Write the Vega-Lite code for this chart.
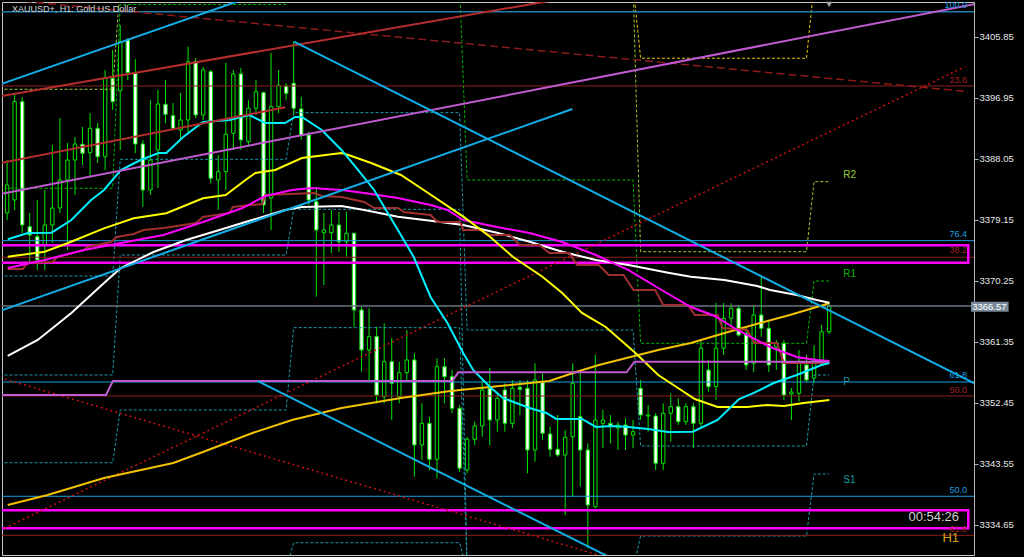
{
"$schema": "https://vega.github.io/schema/vega-lite/v6.json",
"width": 972, "height": 553,
"autosize": {"type": "none"},
"padding": {"left": 2, "top": 2, "right": 50, "bottom": 2},
"background": "#000000",
"config": {"view": {"stroke": "#c8c8c8", "strokeWidth": 1}, "font": "Liberation Sans"},
"datasets": {
"candles": [
{"i":0,"o":3380.13,"h":3387.85,"l":3379.10,"c":3384.21},
{"i":1,"o":3382.02,"h":3397.33,"l":3380.56,"c":3396.35},
{"i":2,"o":3396.35,"h":3397.03,"l":3377.21,"c":3378.37},
{"i":3,"o":3378.13,"h":3380.13,"l":3373.03,"c":3376.92},
{"i":4,"o":3376.67,"h":3382.02,"l":3371.81,"c":3373.27},
{"i":5,"o":3375.46,"h":3383.48,"l":3371.81,"c":3378.37},
{"i":6,"o":3378.37,"h":3390.04,"l":3375.75,"c":3380.85},
{"i":7,"o":3380.85,"h":3393.97,"l":3380.13,"c":3384.94},
{"i":8,"o":3384.94,"h":3390.33,"l":3374.73,"c":3387.85},
{"i":9,"o":3387.85,"h":3391.20,"l":3382.75,"c":3390.18},
{"i":10,"o":3390.14,"h":3392.66,"l":3387.12,"c":3388.83},
{"i":11,"o":3388.91,"h":3394.70,"l":3385.37,"c":3392.47},
{"i":12,"o":3392.47,"h":3393.24,"l":3387.41,"c":3388.33},
{"i":13,"o":3388.33,"h":3400.97,"l":3386.39,"c":3399.76},
{"i":14,"o":3399.76,"h":3403.89,"l":3395.14,"c":3396.35},
{"i":15,"o":3397.95,"h":3407.53,"l":3389.31,"c":3405.10},
{"i":16,"o":3405.34,"h":3405.64,"l":3399.51,"c":3400.58},
{"i":17,"o":3400.58,"h":3402.57,"l":3388.87,"c":3390.18},
{"i":18,"o":3390.18,"h":3390.77,"l":3381.00,"c":3383.48},
{"i":19,"o":3383.48,"h":3396.60,"l":3382.75,"c":3387.85},
{"i":20,"o":3389.31,"h":3398.06,"l":3383.77,"c":3396.01},
{"i":21,"o":3395.97,"h":3399.51,"l":3393.20,"c":3394.51},
{"i":22,"o":3394.31,"h":3396.16,"l":3392.22,"c":3392.47},
{"i":23,"o":3392.22,"h":3397.62,"l":3390.77,"c":3393.68},
{"i":24,"o":3393.68,"h":3404.37,"l":3391.79,"c":3402.18},
{"i":25,"o":3402.18,"h":3402.72,"l":3393.97,"c":3394.41},
{"i":26,"o":3394.41,"h":3401.41,"l":3393.68,"c":3400.97},
{"i":27,"o":3400.72,"h":3400.97,"l":3384.45,"c":3385.18},
{"i":28,"o":3384.94,"h":3388.58,"l":3380.56,"c":3386.15},
{"i":29,"o":3386.15,"h":3401.99,"l":3383.48,"c":3391.60},
{"i":30,"o":3391.74,"h":3400.97,"l":3389.31,"c":3400.39},
{"i":31,"o":3400.39,"h":3401.26,"l":3389.31,"c":3390.77},
{"i":32,"o":3390.52,"h":3396.60,"l":3389.79,"c":3395.39},
{"i":33,"o":3395.39,"h":3399.51,"l":3394.41,"c":3397.81},
{"i":34,"o":3397.66,"h":3397.81,"l":3380.13,"c":3381.29},
{"i":35,"o":3382.31,"h":3403.45,"l":3377.65,"c":3395.62},
{"i":36,"o":3395.62,"h":3400.97,"l":3394.66,"c":3398.74},
{"i":37,"o":3398.64,"h":3399.03,"l":3396.60,"c":3397.57},
{"i":38,"o":3399.03,"h":3405.10,"l":3394.41,"c":3395.39},
{"i":39,"o":3395.29,"h":3397.08,"l":3390.77,"c":3391.49},
{"i":40,"o":3391.49,"h":3392.00,"l":3381.29,"c":3382.02},
{"i":41,"o":3381.77,"h":3383.96,"l":3367.92,"c":3377.65},
{"i":42,"o":3377.25,"h":3380.13,"l":3369.63,"c":3377.65},
{"i":43,"o":3377.25,"h":3380.56,"l":3374.29,"c":3378.37},
{"i":44,"o":3378.37,"h":3380.27,"l":3374.48,"c":3375.94},
{"i":45,"o":3375.94,"h":3380.31,"l":3373.76,"c":3377.17},
{"i":46,"o":3377.17,"h":3377.21,"l":3363.55,"c":3365.99},
{"i":47,"o":3365.99,"h":3366.47,"l":3356.99,"c":3360.15},
{"i":48,"o":3360.15,"h":3366.23,"l":3355.78,"c":3362.09},
{"i":49,"o":3362.09,"h":3363.55,"l":3352.38,"c":3353.59},
{"i":50,"o":3353.35,"h":3364.05,"l":3352.38,"c":3358.45},
{"i":51,"o":3358.45,"h":3361.90,"l":3349.95,"c":3355.30},
{"i":52,"o":3353.35,"h":3358.45,"l":3352.38,"c":3356.85},
{"i":53,"o":3356.85,"h":3363.07,"l":3355.78,"c":3358.70},
{"i":54,"o":3358.70,"h":3359.67,"l":3341.68,"c":3346.30},
{"i":55,"o":3346.30,"h":3352.38,"l":3344.12,"c":3349.47},
{"i":56,"o":3349.47,"h":3350.43,"l":3342.66,"c":3344.22},
{"i":57,"o":3344.22,"h":3358.94,"l":3341.45,"c":3357.72},
{"i":58,"o":3357.72,"h":3358.94,"l":3352.38,"c":3356.26},
{"i":59,"o":3356.26,"h":3357.24,"l":3350.97,"c":3351.65},
{"i":60,"o":3351.65,"h":3352.14,"l":3342.41,"c":3342.91},
{"i":61,"o":3342.66,"h":3347.51,"l":3342.18,"c":3347.14},
{"i":62,"o":3347.14,"h":3349.70,"l":3346.30,"c":3349.08},
{"i":63,"o":3349.08,"h":3355.78,"l":3347.51,"c":3354.32},
{"i":64,"o":3354.57,"h":3357.49,"l":3346.30,"c":3349.95},
{"i":65,"o":3349.95,"h":3354.08,"l":3348.24,"c":3353.11},
{"i":66,"o":3354.32,"h":3355.30,"l":3348.24,"c":3349.47},
{"i":67,"o":3349.47,"h":3355.78,"l":3348.74,"c":3354.57},
{"i":68,"o":3354.72,"h":3355.78,"l":3350.68,"c":3354.43},
{"i":69,"o":3354.57,"h":3355.78,"l":3342.18,"c":3345.58},
{"i":70,"o":3345.58,"h":3358.21,"l":3343.87,"c":3355.78},
{"i":71,"o":3355.53,"h":3356.76,"l":3347.03,"c":3348.01},
{"i":72,"o":3347.91,"h":3348.97,"l":3344.60,"c":3345.68},
{"i":73,"o":3345.68,"h":3350.68,"l":3344.60,"c":3344.85},
{"i":74,"o":3344.85,"h":3348.49,"l":3336.10,"c":3347.43},
{"i":75,"o":3347.51,"h":3358.21,"l":3338.77,"c":3355.30},
{"i":76,"o":3350.43,"h":3357.24,"l":3340.23,"c":3345.58},
{"i":77,"o":3345.58,"h":3346.55,"l":3331.25,"c":3337.56},
{"i":78,"o":3337.31,"h":3359.43,"l":3337.08,"c":3349.95},
{"i":79,"o":3349.47,"h":3351.41,"l":3345.83,"c":3349.95},
{"i":80,"o":3349.47,"h":3350.68,"l":3346.55,"c":3349.18},
{"i":81,"o":3348.78,"h":3349.70,"l":3345.58,"c":3349.22},
{"i":82,"o":3349.22,"h":3350.20,"l":3345.58,"c":3347.76},
{"i":83,"o":3347.76,"h":3349.95,"l":3345.83,"c":3348.24},
{"i":84,"o":3354.57,"h":3355.78,"l":3349.95,"c":3350.68},
{"i":85,"o":3350.53,"h":3352.14,"l":3348.24,"c":3350.68},
{"i":86,"o":3350.53,"h":3350.93,"l":3342.66,"c":3343.64},
{"i":87,"o":3343.64,"h":3352.38,"l":3342.66,"c":3350.93},
{"i":88,"o":3350.93,"h":3353.84,"l":3346.79,"c":3351.89},
{"i":89,"o":3351.89,"h":3353.11,"l":3349.22,"c":3349.70},
{"i":90,"o":3349.70,"h":3352.38,"l":3349.22,"c":3351.89},
{"i":91,"o":3351.89,"h":3352.38,"l":3345.83,"c":3349.47},
{"i":92,"o":3349.47,"h":3361.61,"l":3348.97,"c":3360.40},
{"i":93,"o":3357.24,"h":3358.70,"l":3354.08,"c":3354.81},
{"i":94,"o":3354.81,"h":3367.00,"l":3352.86,"c":3360.40},
{"i":95,"o":3360.40,"h":3367.00,"l":3359.43,"c":3364.77},
{"i":96,"o":3364.77,"h":3366.96,"l":3363.55,"c":3366.23},
{"i":97,"o":3366.23,"h":3366.71,"l":3362.09,"c":3362.34},
{"i":98,"o":3362.59,"h":3363.55,"l":3357.24,"c":3357.97},
{"i":99,"o":3358.21,"h":3366.71,"l":3356.95,"c":3365.26},
{"i":100,"o":3365.26,"h":3370.84,"l":3362.09,"c":3363.32},
{"i":101,"o":3363.32,"h":3364.53,"l":3356.95,"c":3357.97},
{"i":102,"o":3360.59,"h":3361.61,"l":3357.24,"c":3361.18},
{"i":103,"o":3361.13,"h":3361.61,"l":3352.86,"c":3353.59},
{"i":104,"o":3353.74,"h":3354.61,"l":3349.95,"c":3354.03},
{"i":105,"o":3353.84,"h":3360.15,"l":3352.62,"c":3358.21},
{"i":106,"o":3357.97,"h":3359.43,"l":3355.49,"c":3355.78},
{"i":107,"o":3356.07,"h":3360.88,"l":3355.34,"c":3358.70},
{"i":108,"o":3358.40,"h":3363.80,"l":3357.82,"c":3362.82},
{"i":109,"o":3362.82,"h":3367.00,"l":3362.49,"c":3366.57}
],
"lines": [
{"g":"cyan","s":"c","x":0.08,"p":3376.29},{"g":"cyan","s":"c","x":2.74,"p":3377.21},{"g":"cyan","s":"c","x":5.89,"p":3377.25},{"g":"cyan","s":"c","x":8.52,"p":3379.10},{"g":"cyan","s":"c","x":11.14,"p":3382.02},{"g":"cyan","s":"c","x":12.85,"p":3383.48},{"g":"cyan","s":"c","x":15.08,"p":3386.39},{"g":"cyan","s":"c","x":17.70,"p":3387.85},{"g":"cyan","s":"c","x":20.07,"p":3388.87},{"g":"cyan","s":"c","x":21.11,"p":3388.87},{"g":"cyan","s":"c","x":23.35,"p":3391.20},{"g":"cyan","s":"c","x":25.97,"p":3393.39},{"g":"cyan","s":"c","x":29.51,"p":3393.68},{"g":"cyan","s":"c","x":32.14,"p":3394.41},{"g":"cyan","s":"c","x":34.24,"p":3393.24},{"g":"cyan","s":"c","x":36.86,"p":3393.24},{"g":"cyan","s":"c","x":38.18,"p":3394.12},{"g":"cyan","s":"c","x":39.09,"p":3394.12},{"g":"cyan","s":"c","x":41.72,"p":3392.22},{"g":"cyan","s":"c","x":44.34,"p":3389.31},{"g":"cyan","s":"c","x":46.31,"p":3386.69},{"g":"cyan","s":"c","x":48.67,"p":3383.48},{"g":"cyan","s":"c","x":51.82,"p":3377.65},{"g":"cyan","s":"c","x":53.92,"p":3373.71},{"g":"cyan","s":"c","x":56.15,"p":3367.88},{"g":"cyan","s":"c","x":58.39,"p":3364.09},{"g":"cyan","s":"c","x":60.48,"p":3359.72},{"g":"cyan","s":"c","x":61.80,"p":3357.24},{"g":"cyan","s":"c","x":64.03,"p":3354.76},{"g":"cyan","s":"c","x":65.73,"p":3353.16},{"g":"cyan","s":"c","x":69.28,"p":3351.70},{"g":"cyan","s":"c","x":71.51,"p":3350.97},{"g":"cyan","s":"c","x":72.82,"p":3350.10},{"g":"cyan","s":"c","x":76.23,"p":3350.10},{"g":"cyan","s":"c","x":78.07,"p":3348.93},{"g":"cyan","s":"c","x":80.17,"p":3349.08},{"g":"cyan","s":"c","x":82.40,"p":3348.93},{"g":"cyan","s":"c","x":85.03,"p":3348.64},{"g":"cyan","s":"c","x":87.65,"p":3348.20},{"g":"cyan","s":"c","x":90.93,"p":3348.25},{"g":"cyan","s":"c","x":94.21,"p":3349.95},{"g":"cyan","s":"c","x":97.06,"p":3353.01},{"g":"cyan","s":"c","x":99.03,"p":3353.89},{"g":"cyan","s":"c","x":101.65,"p":3355.34},{"g":"cyan","s":"c","x":104.71,"p":3356.51},{"g":"cyan","s":"c","x":107.99,"p":3357.97},{"g":"cyan","s":"c","x":109.04,"p":3358.26},
{"g":"yellow","s":"y","x":0.08,"p":3373.76},{"g":"yellow","s":"y","x":4.97,"p":3374.48},{"g":"yellow","s":"y","x":7.99,"p":3375.71},{"g":"yellow","s":"y","x":12.85,"p":3377.89},{"g":"yellow","s":"y","x":16.78,"p":3379.35},{"g":"yellow","s":"y","x":21.11,"p":3380.08},{"g":"yellow","s":"y","x":25.97,"p":3382.27},{"g":"yellow","s":"y","x":28.99,"p":3382.75},{"g":"yellow","s":"y","x":31.61,"p":3384.94},{"g":"yellow","s":"y","x":32.93,"p":3385.96},{"g":"yellow","s":"y","x":35.55,"p":3386.39},{"g":"yellow","s":"y","x":39.09,"p":3388.14},{"g":"yellow","s":"y","x":44.34,"p":3388.87},{"g":"yellow","s":"y","x":45.26,"p":3388.58},{"g":"yellow","s":"y","x":48.28,"p":3387.41},{"g":"yellow","s":"y","x":52.22,"p":3385.66},{"g":"yellow","s":"y","x":55.24,"p":3383.48},{"g":"yellow","s":"y","x":60.49,"p":3379.59},{"g":"yellow","s":"y","x":64.03,"p":3376.67},{"g":"yellow","s":"y","x":67.05,"p":3373.75},{"g":"yellow","s":"y","x":70.98,"p":3370.84},{"g":"yellow","s":"y","x":73.61,"p":3368.46},{"g":"yellow","s":"y","x":76.23,"p":3365.55},{"g":"yellow","s":"y","x":79.38,"p":3363.51},{"g":"yellow","s":"y","x":83.32,"p":3359.72},{"g":"yellow","s":"y","x":86.34,"p":3356.51},{"g":"yellow","s":"y","x":88.96,"p":3354.61},{"g":"yellow","s":"y","x":91.19,"p":3353.01},{"g":"yellow","s":"y","x":94.21,"p":3351.84},{"g":"yellow","s":"y","x":98.15,"p":3351.84},{"g":"yellow","s":"y","x":100.77,"p":3352.13},{"g":"yellow","s":"y","x":103.00,"p":3351.99},{"g":"yellow","s":"y","x":105.63,"p":3352.43},{"g":"yellow","s":"y","x":109.04,"p":3352.87},
{"g":"gold","s":"g","x":0.08,"p":3337.56},{"g":"gold","s":"g","x":5.37,"p":3339.02},{"g":"gold","s":"g","x":12.85,"p":3341.49},{"g":"gold","s":"g","x":22.03,"p":3343.68},{"g":"gold","s":"g","x":25.97,"p":3345.29},{"g":"gold","s":"g","x":32.53,"p":3348.05},{"g":"gold","s":"g","x":37.78,"p":3349.95},{"g":"gold","s":"g","x":44.34,"p":3351.70},{"g":"gold","s":"g","x":52.22,"p":3353.16},{"g":"gold","s":"g","x":58.78,"p":3354.17},{"g":"gold","s":"g","x":65.34,"p":3354.90},{"g":"gold","s":"g","x":71.90,"p":3355.64},{"g":"gold","s":"g","x":75.45,"p":3356.95},{"g":"gold","s":"g","x":78.46,"p":3357.97},{"g":"gold","s":"g","x":81.09,"p":3358.69},{"g":"gold","s":"g","x":83.71,"p":3359.42},{"g":"gold","s":"g","x":86.34,"p":3360.15},{"g":"gold","s":"g","x":90.67,"p":3361.17},{"g":"gold","s":"g","x":95.13,"p":3362.63},{"g":"gold","s":"g","x":99.85,"p":3364.09},{"g":"gold","s":"g","x":103.79,"p":3365.26},{"g":"gold","s":"g","x":108.25,"p":3366.71},{"g":"gold","s":"g","x":109.04,"p":3367.00},
{"g":"white","s":"w","x":0.08,"p":3359.28},{"g":"white","s":"w","x":4.06,"p":3361.61},{"g":"white","s":"w","x":8.52,"p":3365.55},{"g":"white","s":"w","x":12.85,"p":3369.92},{"g":"white","s":"w","x":15.08,"p":3372.11},{"g":"white","s":"w","x":19.41,"p":3374.44},{"g":"white","s":"w","x":23.74,"p":3376.19},{"g":"white","s":"w","x":27.28,"p":3377.36},{"g":"white","s":"w","x":31.61,"p":3378.81},{"g":"white","s":"w","x":36.86,"p":3380.56},{"g":"white","s":"w","x":39.09,"p":3381.00},{"g":"white","s":"w","x":44.34,"p":3381.15},{"g":"white","s":"w","x":47.36,"p":3380.56},{"g":"white","s":"w","x":51.82,"p":3379.59},{"g":"white","s":"w","x":56.15,"p":3379.00},{"g":"white","s":"w","x":60.48,"p":3378.37},{"g":"white","s":"w","x":64.95,"p":3377.25},{"g":"white","s":"w","x":69.28,"p":3375.94},{"g":"white","s":"w","x":73.61,"p":3374.48},{"g":"white","s":"w","x":78.07,"p":3373.27},{"g":"white","s":"w","x":82.40,"p":3372.55},{"g":"white","s":"w","x":87.65,"p":3371.42},{"g":"white","s":"w","x":90.67,"p":3370.84},{"g":"white","s":"w","x":95.13,"p":3370.36},{"g":"white","s":"w","x":99.46,"p":3369.48},{"g":"white","s":"w","x":101.17,"p":3368.90},{"g":"white","s":"w","x":104.71,"p":3368.17},{"g":"white","s":"w","x":107.34,"p":3367.44},{"g":"white","s":"w","x":109.04,"p":3367.05},
{"g":"magenta","s":"m","x":0.08,"p":3372.11},{"g":"magenta","s":"m","x":4.97,"p":3373.27},{"g":"magenta","s":"m","x":10.22,"p":3374.73},{"g":"magenta","s":"m","x":15.08,"p":3375.75},{"g":"magenta","s":"m","x":20.72,"p":3376.92},{"g":"magenta","s":"m","x":25.97,"p":3378.81},{"g":"magenta","s":"m","x":31.22,"p":3380.85},{"g":"magenta","s":"m","x":34.24,"p":3382.60},{"g":"magenta","s":"m","x":37.78,"p":3383.48},{"g":"magenta","s":"m","x":40.41,"p":3383.77},{"g":"magenta","s":"m","x":44.34,"p":3383.48},{"g":"magenta","s":"m","x":47.36,"p":3383.04},{"g":"magenta","s":"m","x":51.82,"p":3382.31},{"g":"magenta","s":"m","x":56.15,"p":3381.29},{"g":"magenta","s":"m","x":58.39,"p":3380.56},{"g":"magenta","s":"m","x":60.48,"p":3379.10},{"g":"magenta","s":"m","x":64.95,"p":3378.08},{"g":"magenta","s":"m","x":69.28,"p":3377.21},{"g":"magenta","s":"m","x":73.61,"p":3375.90},{"g":"magenta","s":"m","x":78.07,"p":3374.00},{"g":"magenta","s":"m","x":82.40,"p":3371.81},{"g":"magenta","s":"m","x":86.34,"p":3369.19},{"g":"magenta","s":"m","x":90.67,"p":3366.42},{"g":"magenta","s":"m","x":93.82,"p":3365.11},{"g":"magenta","s":"m","x":96.84,"p":3363.07},{"g":"magenta","s":"m","x":101.17,"p":3360.59},{"g":"magenta","s":"m","x":104.71,"p":3359.13},{"g":"magenta","s":"m","x":107.34,"p":3358.70},{"g":"magenta","s":"m","x":109.04,"p":3358.55},
{"g":"brown","s":"b","x":0.08,"p":3371.96},{"g":"brown","s":"b","x":2.09,"p":3371.96},{"g":"brown","s":"b","x":2.74,"p":3372.84},{"g":"brown","s":"b","x":6.02,"p":3372.98},{"g":"brown","s":"b","x":6.68,"p":3373.71},{"g":"brown","s":"b","x":10.22,"p":3374.73},{"g":"brown","s":"b","x":10.62,"p":3375.17},{"g":"brown","s":"b","x":13.77,"p":3375.90},{"g":"brown","s":"b","x":14.55,"p":3376.63},{"g":"brown","s":"b","x":16.78,"p":3377.07},{"g":"brown","s":"b","x":18.10,"p":3377.65},{"g":"brown","s":"b","x":20.72,"p":3377.94},{"g":"brown","s":"b","x":21.64,"p":3378.08},{"g":"brown","s":"b","x":25.05,"p":3378.67},{"g":"brown","s":"b","x":25.97,"p":3379.54},{"g":"brown","s":"b","x":29.51,"p":3380.13},{"g":"brown","s":"b","x":29.91,"p":3381.00},{"g":"brown","s":"b","x":33.84,"p":3381.44},{"g":"brown","s":"b","x":34.24,"p":3382.75},{"g":"brown","s":"b","x":40.80,"p":3383.04},{"g":"brown","s":"b","x":41.72,"p":3382.60},{"g":"brown","s":"b","x":44.34,"p":3382.46},{"g":"brown","s":"b","x":47.36,"p":3381.73},{"g":"brown","s":"b","x":48.67,"p":3380.85},{"g":"brown","s":"b","x":51.82,"p":3380.85},{"g":"brown","s":"b","x":52.61,"p":3380.27},{"g":"brown","s":"b","x":56.15,"p":3379.83},{"g":"brown","s":"b","x":57.07,"p":3378.81},{"g":"brown","s":"b","x":60.09,"p":3378.81},{"g":"brown","s":"b","x":60.48,"p":3377.65},{"g":"brown","s":"b","x":62.72,"p":3377.65},{"g":"brown","s":"b","x":64.03,"p":3376.92},{"g":"brown","s":"b","x":66.65,"p":3376.92},{"g":"brown","s":"b","x":67.97,"p":3375.46},{"g":"brown","s":"b","x":70.59,"p":3375.46},{"g":"brown","s":"b","x":71.90,"p":3374.29},{"g":"brown","s":"b","x":74.53,"p":3374.29},{"g":"brown","s":"b","x":75.58,"p":3372.55},{"g":"brown","s":"b","x":78.46,"p":3372.55},{"g":"brown","s":"b","x":79.78,"p":3371.09},{"g":"brown","s":"b","x":81.75,"p":3371.09},{"g":"brown","s":"b","x":83.06,"p":3368.90},{"g":"brown","s":"b","x":85.94,"p":3368.90},{"g":"brown","s":"b","x":86.99,"p":3366.71},{"g":"brown","s":"b","x":90.28,"p":3366.71},{"g":"brown","s":"b","x":91.19,"p":3365.26},{"g":"brown","s":"b","x":94.21,"p":3365.26},{"g":"brown","s":"b","x":94.87,"p":3363.36},{"g":"brown","s":"b","x":98.15,"p":3363.07},{"g":"brown","s":"b","x":99.07,"p":3361.18},{"g":"brown","s":"b","x":102.09,"p":3361.18},{"g":"brown","s":"b","x":103.00,"p":3358.26},{"g":"brown","s":"b","x":109.04,"p":3358.26},
{"g":"violet","s":"v","x":-0.93,"p":3353.59},{"g":"violet","s":"v","x":13.11,"p":3353.59},{"g":"violet","s":"v","x":14.03,"p":3355.64},{"g":"violet","s":"v","x":59.04,"p":3355.64},{"g":"violet","s":"v","x":59.83,"p":3356.90},{"g":"violet","s":"v","x":82.14,"p":3356.90},{"g":"violet","s":"v","x":83.19,"p":3358.45},{"g":"violet","s":"v","x":109.04,"p":3358.45},
{"g":"tblue","s":"b1","x":-0.93,"p":3398.87},{"g":"tblue","s":"b1","x":34.89,"p":3412.63},
{"g":"tblue","s":"b2","x":38.04,"p":3405.10},{"g":"tblue","s":"b2","x":128.33,"p":3355.26},
{"g":"tblue","s":"b3","x":-0.93,"p":3365.84},{"g":"tblue","s":"b3","x":74.96,"p":3395.29},
{"g":"tblue","s":"b4","x":33.19,"p":3355.64},{"g":"tblue","s":"b4","x":81.09,"p":3329.29},
{"g":"tred","s":"r1","x":-0.93,"p":3397.14},{"g":"tred","s":"r1","x":76.50,"p":3411.90},
{"g":"tred","s":"r2","x":-0.93,"p":3387.38},{"g":"tred","s":"r2","x":36.90,"p":3395.53},
{"g":"tviolet","s":"tv","x":-0.93,"p":3382.88},{"g":"tviolet","s":"tv","x":128.33,"p":3410.59},
{"g":"rdash","s":"rd","x":-0.93,"p":3411.32},{"g":"rdash","s":"rd","x":127.43,"p":3397.81},
{"g":"rdot","s":"ro1","x":-0.93,"p":3333.83},{"g":"rdot","s":"ro1","x":127.02,"p":3401.45},
{"g":"rdot","s":"ro2","x":-0.93,"p":3356.12},{"g":"rdot","s":"ro2","x":81.09,"p":3329.40},
{"g":"pv","s":"s3","x":37,"p":3328.09},{"g":"pv","s":"s3","x":38,"p":3332.06},{"g":"pv","s":"s3","x":60,"p":3332.06},{"g":"pv","s":"s3","x":61,"p":3328.09},
{"g":"pv","s":"s2","x":-1,"p":3343.72},{"g":"pv","s":"s2","x":14,"p":3343.72},{"g":"pv","s":"s2","x":15,"p":3351.41},{"g":"pv","s":"s2","x":37,"p":3351.41},{"g":"pv","s":"s2","x":38,"p":3363.41},{"g":"pv","s":"s2","x":60,"p":3363.41},{"g":"pv","s":"s2","x":61,"p":3328.09},
{"g":"pv","s":"s1","x":-1,"p":3356.51},{"g":"pv","s":"s1","x":14,"p":3356.51},{"g":"pv","s":"s1","x":15,"p":3374.00},{"g":"pv","s":"s1","x":37,"p":3374.00},{"g":"pv","s":"s1","x":38,"p":3380.66},{"g":"pv","s":"s1","x":60,"p":3380.66},{"g":"pv","s":"s1","x":61,"p":3328.09},{"g":"pv","s":"s1","x":83,"p":3328.09},{"g":"pv","s":"s1","x":84,"p":3333.04},{"g":"pv","s":"s1","x":106,"p":3333.04},{"g":"pv","s":"s1","x":107,"p":3342.08},{"g":"pv","s":"s1","x":109,"p":3342.08},
{"g":"pv","s":"p","x":-1,"p":3370.94},{"g":"pv","s":"p","x":14,"p":3370.94},{"g":"pv","s":"p","x":15,"p":3387.95},{"g":"pv","s":"p","x":37,"p":3387.95},{"g":"pv","s":"p","x":38,"p":3394.75},{"g":"pv","s":"p","x":60,"p":3394.75},{"g":"pv","s":"p","x":61,"p":3363.07},{"g":"pv","s":"p","x":83,"p":3363.07},{"g":"pv","s":"p","x":84,"p":3346.16},{"g":"pv","s":"p","x":106,"p":3346.16},{"g":"pv","s":"p","x":107,"p":3356.51},{"g":"pv","s":"p","x":109,"p":3356.51},
{"g":"r1","s":"r1p","x":-1,"p":3383.73},{"g":"r1","s":"r1p","x":14,"p":3383.73},{"g":"r1","s":"r1p","x":15,"p":3410.52},{"g":"r1","s":"r1p","x":37,"p":3410.52},{"g":"r1","s":"r1p","x":38,"p":3413.36},{"g":"r1","s":"r1p","x":60,"p":3413.36},{"g":"r1","s":"r1p","x":61,"p":3384.94},{"g":"r1","s":"r1p","x":83,"p":3384.94},{"g":"r1","s":"r1p","x":84,"p":3361.13},{"g":"r1","s":"r1p","x":106,"p":3361.13},{"g":"r1","s":"r1p","x":107,"p":3370.21},{"g":"r1","s":"r1p","x":109,"p":3370.21},
{"g":"r2","s":"r2p","x":-1,"p":3398.16},{"g":"r2","s":"r2p","x":14,"p":3398.16},{"g":"r2","s":"r2p","x":15,"p":3413.36},{"g":"r2","s":"r2p","x":83,"p":3413.36},{"g":"r2","s":"r2p","x":84,"p":3374.48},{"g":"r2","s":"r2p","x":106,"p":3374.48},{"g":"r2","s":"r2p","x":107,"p":3384.69},{"g":"r2","s":"r2p","x":109,"p":3384.69},
{"g":"r3","s":"r3p","x":83,"p":3413.36},{"g":"r3","s":"r3p","x":84,"p":3402.68},{"g":"r3","s":"r3p","x":106,"p":3402.68},{"g":"r3","s":"r3p","x":107,"p":3413.36}
],
"levels": [
{"g":"fib100","p":3409.47},
{"g":"fibb","p":3376.09},{"g":"fibb","p":3355.49},{"g":"fibb","p":3338.83},
{"g":"fibr","p":3398.64},{"g":"fibr","p":3373.67},{"g":"fibr","p":3353.45},{"g":"fibr","p":3333.14},
{"g":"price","p":3366.57}
],
"rects": [
{"x1":-2,"x2":127.45,"p1":3375.42,"p2":3372.88},
{"x1":-2,"x2":127.45,"p1":3336.79,"p2":3334.16}
],
"box": [{"x1":127.81,"x2":132.8,"p1":3367.2,"p2":3365.74}],
"labels": [
{"g":"title","t":"XAUUSD+, H1:  Gold US Dollar","x":0.64,"p":3409.86},
{"g":"r2","t":"R2","x":110.88,"p":3385.66},
{"g":"r1","t":"R1","x":110.88,"p":3371.23},
{"g":"pv","t":"P","x":110.88,"p":3355.49},
{"g":"pv","t":"S1","x":110.88,"p":3341.2},
{"g":"fibb","t":"100.0","x":127.28,"p":3410.37},
{"g":"fibr","t":"23.6","x":127.28,"p":3399.51},
{"g":"fibb","t":"76.4","x":127.28,"p":3377.06},
{"g":"fibr","t":"38.2","x":127.28,"p":3374.73},
{"g":"fibb","t":"61.8","x":127.28,"p":3356.44},
{"g":"fibr","t":"50.0","x":127.28,"p":3354.32},
{"g":"fibb","t":"50.0","x":127.28,"p":3339.75},
{"g":"fibr","t":"61.8","x":127.28,"p":3334.06},
{"g":"timer","t":"00:54:26","x":126.23,"p":3335.74},
{"g":"tf","t":"H1","x":126.23,"p":3332.75},
{"g":"price","t":"3366.57","x":130.25,"p":3366.47}
],
"marker": [{"x":109.0,"p":3410.52}]
},
"layer": [
{"data": {"name": "candles"},
 "mark": {"type": "rule", "color": "#00e600", "strokeWidth": 1, "clip": true},
 "encoding": {
  "x": {"field": "i", "type": "quantitative", "scale": {"domain": [-0.013, 127.546], "nice": false, "zero": false}, "axis": null, "title": null},
  "y": {"field": "h", "type": "quantitative", "scale": {"domain": [3330.27, 3410.88], "nice": false, "zero": false}, "title": null,
        "axis": {"orient": "right", "values": [3334.65,3339.10,3343.55,3348.00,3352.45,3356.90,3361.35,3365.80,3370.25,3374.70,3379.15,3383.60,3388.05,3392.50,3396.95,3401.40,3405.85,3410.30],
                 "format": ".2f", "labelColor": "#e6e6e6", "labelFont": "Liberation Sans", "labelFontSize": 9.5, "tickColor": "#b4b4b4", "tickSize": 4, "labelPadding": 1,
                 "domainColor": "#b4b4b4", "grid": false, "labelFlush": false, "labelOverlap": false, "labelBaseline": "middle", "title": null}},
  "y2": {"field": "l"}
 }},
{"data": {"name": "candles"},
 "mark": {"type": "bar", "width": 3.4, "stroke": "#00e600", "strokeWidth": 1, "clip": true},
 "encoding": {
  "x": {"field": "i", "type": "quantitative", "scale": {"domain": [-0.013, 127.546], "nice": false, "zero": false}, "axis": null, "title": null},
  "y": {"field": "o", "type": "quantitative", "scale": {"domain": [3330.27, 3410.88], "nice": false, "zero": false}, "title": null},
  "y2": {"field": "c"},
  "fill": {"condition": {"test": "datum.c < datum.o", "value": "#ffffff"}, "value": "#000000"}
 }},
{"data": {"name": "lines"}, "transform": [{"filter": "datum.g == 'pv'"}],
 "mark": {"type": "line", "color": "#1a9aaa", "strokeWidth": 1, "strokeDash": [3, 2], "clip": true},
 "encoding": {"x": {"field": "x", "type": "quantitative", "scale": {"domain": [-0.013, 127.546], "nice": false, "zero": false}, "axis": null, "title": null},
  "y": {"field": "p", "type": "quantitative", "scale": {"domain": [3330.27, 3410.88], "nice": false, "zero": false}, "title": null},
  "detail": {"field": "s"}}},
{"data": {"name": "lines"}, "transform": [{"filter": "datum.g == 'r1'"}],
 "mark": {"type": "line", "color": "#00b400", "strokeWidth": 1, "strokeDash": [3, 2], "clip": true},
 "encoding": {"x": {"field": "x", "type": "quantitative", "scale": {"domain": [-0.013, 127.546], "nice": false, "zero": false}, "axis": null, "title": null},
  "y": {"field": "p", "type": "quantitative", "scale": {"domain": [3330.27, 3410.88], "nice": false, "zero": false}, "title": null}}},
{"data": {"name": "lines"}, "transform": [{"filter": "datum.g == 'r2'"}],
 "mark": {"type": "line", "color": "#9acd32", "strokeWidth": 1, "strokeDash": [3, 2], "clip": true},
 "encoding": {"x": {"field": "x", "type": "quantitative", "scale": {"domain": [-0.013, 127.546], "nice": false, "zero": false}, "axis": null, "title": null},
  "y": {"field": "p", "type": "quantitative", "scale": {"domain": [3330.27, 3410.88], "nice": false, "zero": false}, "title": null}}},
{"data": {"name": "lines"}, "transform": [{"filter": "datum.g == 'r3'"}],
 "mark": {"type": "line", "color": "#e6c800", "strokeWidth": 1, "strokeDash": [3, 2], "clip": true},
 "encoding": {"x": {"field": "x", "type": "quantitative", "scale": {"domain": [-0.013, 127.546], "nice": false, "zero": false}, "axis": null, "title": null},
  "y": {"field": "p", "type": "quantitative", "scale": {"domain": [3330.27, 3410.88], "nice": false, "zero": false}, "title": null}}},
{"data": {"name": "levels"}, "transform": [{"filter": "datum.g == 'price'"}],
 "mark": {"type": "rule", "color": "#6a7580", "strokeWidth": 1.5},
 "encoding": {"y": {"field": "p", "type": "quantitative", "scale": {"domain": [3330.27, 3410.88], "nice": false, "zero": false}, "title": null}}},
{"data": {"name": "levels"}, "transform": [{"filter": "datum.g == 'fib100'"}],
 "mark": {"type": "rule", "color": "#1f7fb0", "strokeWidth": 1.5},
 "encoding": {"y": {"field": "p", "type": "quantitative", "scale": {"domain": [3330.27, 3410.88], "nice": false, "zero": false}, "title": null}}},
{"data": {"name": "levels"}, "transform": [{"filter": "datum.g == 'fibb'"}],
 "mark": {"type": "rule", "color": "#1aa0e0", "strokeWidth": 1},
 "encoding": {"y": {"field": "p", "type": "quantitative", "scale": {"domain": [3330.27, 3410.88], "nice": false, "zero": false}, "title": null}}},
{"data": {"name": "levels"}, "transform": [{"filter": "datum.g == 'fibr'"}],
 "mark": {"type": "rule", "color": "#8b2020", "strokeWidth": 1},
 "encoding": {"y": {"field": "p", "type": "quantitative", "scale": {"domain": [3330.27, 3410.88], "nice": false, "zero": false}, "title": null}}},
{"data": {"name": "rects"},
 "mark": {"type": "rect", "stroke": "#ff00ff", "strokeWidth": 2.5, "fillOpacity": 0, "fill": "#000000", "clip": true},
 "encoding": {"x": {"field": "x1", "type": "quantitative", "scale": {"domain": [-0.013, 127.546], "nice": false, "zero": false}, "axis": null, "title": null},
  "x2": {"field": "x2"},
  "y": {"field": "p1", "type": "quantitative", "scale": {"domain": [3330.27, 3410.88], "nice": false, "zero": false}, "title": null},
  "y2": {"field": "p2"}}},
{"data": {"name": "lines"}, "transform": [{"filter": "datum.g == 'rdash'"}],
 "mark": {"type": "line", "color": "#8b1a1a", "strokeWidth": 1.5, "strokeDash": [8, 4], "clip": true},
 "encoding": {"x": {"field": "x", "type": "quantitative", "scale": {"domain": [-0.013, 127.546], "nice": false, "zero": false}, "axis": null, "title": null},
  "y": {"field": "p", "type": "quantitative", "scale": {"domain": [3330.27, 3410.88], "nice": false, "zero": false}, "title": null}}},
{"data": {"name": "lines"}, "transform": [{"filter": "datum.g == 'rdot'"}],
 "mark": {"type": "line", "color": "#c81010", "strokeWidth": 1.5, "strokeDash": [2, 3], "clip": true},
 "encoding": {"x": {"field": "x", "type": "quantitative", "scale": {"domain": [-0.013, 127.546], "nice": false, "zero": false}, "axis": null, "title": null},
  "y": {"field": "p", "type": "quantitative", "scale": {"domain": [3330.27, 3410.88], "nice": false, "zero": false}, "title": null},
  "detail": {"field": "s"}}},
{"data": {"name": "lines"}, "transform": [{"filter": "datum.g == 'gold'"}],
 "mark": {"type": "line", "color": "#f2c200", "strokeWidth": 2, "clip": true},
 "encoding": {"x": {"field": "x", "type": "quantitative", "scale": {"domain": [-0.013, 127.546], "nice": false, "zero": false}, "axis": null, "title": null},
  "y": {"field": "p", "type": "quantitative", "scale": {"domain": [3330.27, 3410.88], "nice": false, "zero": false}, "title": null}}},
{"data": {"name": "lines"}, "transform": [{"filter": "datum.g == 'white'"}],
 "mark": {"type": "line", "color": "#ffffff", "strokeWidth": 2, "clip": true},
 "encoding": {"x": {"field": "x", "type": "quantitative", "scale": {"domain": [-0.013, 127.546], "nice": false, "zero": false}, "axis": null, "title": null},
  "y": {"field": "p", "type": "quantitative", "scale": {"domain": [3330.27, 3410.88], "nice": false, "zero": false}, "title": null}}},
{"data": {"name": "lines"}, "transform": [{"filter": "datum.g == 'brown'"}],
 "mark": {"type": "line", "color": "#a03030", "strokeWidth": 2, "clip": true},
 "encoding": {"x": {"field": "x", "type": "quantitative", "scale": {"domain": [-0.013, 127.546], "nice": false, "zero": false}, "axis": null, "title": null},
  "y": {"field": "p", "type": "quantitative", "scale": {"domain": [3330.27, 3410.88], "nice": false, "zero": false}, "title": null}}},
{"data": {"name": "lines"}, "transform": [{"filter": "datum.g == 'magenta'"}],
 "mark": {"type": "line", "color": "#ff00ff", "strokeWidth": 2, "clip": true},
 "encoding": {"x": {"field": "x", "type": "quantitative", "scale": {"domain": [-0.013, 127.546], "nice": false, "zero": false}, "axis": null, "title": null},
  "y": {"field": "p", "type": "quantitative", "scale": {"domain": [3330.27, 3410.88], "nice": false, "zero": false}, "title": null}}},
{"data": {"name": "lines"}, "transform": [{"filter": "datum.g == 'yellow'"}],
 "mark": {"type": "line", "color": "#ffff00", "strokeWidth": 2, "clip": true},
 "encoding": {"x": {"field": "x", "type": "quantitative", "scale": {"domain": [-0.013, 127.546], "nice": false, "zero": false}, "axis": null, "title": null},
  "y": {"field": "p", "type": "quantitative", "scale": {"domain": [3330.27, 3410.88], "nice": false, "zero": false}, "title": null}}},
{"data": {"name": "lines"}, "transform": [{"filter": "datum.g == 'cyan'"}],
 "mark": {"type": "line", "color": "#00f0ff", "strokeWidth": 2, "clip": true},
 "encoding": {"x": {"field": "x", "type": "quantitative", "scale": {"domain": [-0.013, 127.546], "nice": false, "zero": false}, "axis": null, "title": null},
  "y": {"field": "p", "type": "quantitative", "scale": {"domain": [3330.27, 3410.88], "nice": false, "zero": false}, "title": null}}},
{"data": {"name": "lines"}, "transform": [{"filter": "datum.g == 'violet'"}],
 "mark": {"type": "line", "color": "#c05ad0", "strokeWidth": 2, "clip": true},
 "encoding": {"x": {"field": "x", "type": "quantitative", "scale": {"domain": [-0.013, 127.546], "nice": false, "zero": false}, "axis": null, "title": null},
  "y": {"field": "p", "type": "quantitative", "scale": {"domain": [3330.27, 3410.88], "nice": false, "zero": false}, "title": null}}},
{"data": {"name": "lines"}, "transform": [{"filter": "datum.g == 'tred'"}],
 "mark": {"type": "line", "color": "#b52d2d", "strokeWidth": 2, "clip": true},
 "encoding": {"x": {"field": "x", "type": "quantitative", "scale": {"domain": [-0.013, 127.546], "nice": false, "zero": false}, "axis": null, "title": null},
  "y": {"field": "p", "type": "quantitative", "scale": {"domain": [3330.27, 3410.88], "nice": false, "zero": false}, "title": null},
  "detail": {"field": "s"}}},
{"data": {"name": "lines"}, "transform": [{"filter": "datum.g == 'tviolet'"}],
 "mark": {"type": "line", "color": "#c05ad0", "strokeWidth": 2, "clip": true},
 "encoding": {"x": {"field": "x", "type": "quantitative", "scale": {"domain": [-0.013, 127.546], "nice": false, "zero": false}, "axis": null, "title": null},
  "y": {"field": "p", "type": "quantitative", "scale": {"domain": [3330.27, 3410.88], "nice": false, "zero": false}, "title": null}}},
{"data": {"name": "lines"}, "transform": [{"filter": "datum.g == 'tblue'"}],
 "mark": {"type": "line", "color": "#12aee8", "strokeWidth": 2, "clip": true},
 "encoding": {"x": {"field": "x", "type": "quantitative", "scale": {"domain": [-0.013, 127.546], "nice": false, "zero": false}, "axis": null, "title": null},
  "y": {"field": "p", "type": "quantitative", "scale": {"domain": [3330.27, 3410.88], "nice": false, "zero": false}, "title": null},
  "detail": {"field": "s"}}},
{"data": {"name": "box"},
 "mark": {"type": "rect", "fill": "#778899", "clip": false},
 "encoding": {"x": {"field": "x1", "type": "quantitative", "scale": {"domain": [-0.013, 127.546], "nice": false, "zero": false}, "axis": null, "title": null},
  "x2": {"field": "x2"},
  "y": {"field": "p1", "type": "quantitative", "scale": {"domain": [3330.27, 3410.88], "nice": false, "zero": false}, "title": null},
  "y2": {"field": "p2"}}},
{"data": {"name": "marker"},
 "mark": {"type": "point", "shape": "triangle-down", "filled": true, "color": "#a0a0a0", "size": 40, "opacity": 1, "clip": false},
 "encoding": {"x": {"field": "x", "type": "quantitative", "scale": {"domain": [-0.013, 127.546], "nice": false, "zero": false}, "axis": null, "title": null},
  "y": {"field": "p", "type": "quantitative", "scale": {"domain": [3330.27, 3410.88], "nice": false, "zero": false}, "title": null}}},
{"data": {"name": "labels"}, "transform": [{"filter": "datum.g == 'title'"}],
 "mark": {"type": "text", "baseline": "middle", "align": "left", "fontSize": 9, "color": "#d8d8d8", "clip": false},
 "encoding": {"x": {"field": "x", "type": "quantitative", "scale": {"domain": [-0.013, 127.546], "nice": false, "zero": false}, "axis": null, "title": null},
  "y": {"field": "p", "type": "quantitative", "scale": {"domain": [3330.27, 3410.88], "nice": false, "zero": false}, "title": null},
  "text": {"field": "t"}}},
{"data": {"name": "labels"}, "transform": [{"filter": "datum.g == 'r2'"}],
 "mark": {"type": "text", "baseline": "middle", "align": "left", "fontSize": 10, "color": "#9acd32", "clip": false},
 "encoding": {"x": {"field": "x", "type": "quantitative", "scale": {"domain": [-0.013, 127.546], "nice": false, "zero": false}, "axis": null, "title": null},
  "y": {"field": "p", "type": "quantitative", "scale": {"domain": [3330.27, 3410.88], "nice": false, "zero": false}, "title": null},
  "text": {"field": "t"}}},
{"data": {"name": "labels"}, "transform": [{"filter": "datum.g == 'r1'"}],
 "mark": {"type": "text", "baseline": "middle", "align": "left", "fontSize": 10, "color": "#00b400", "clip": false},
 "encoding": {"x": {"field": "x", "type": "quantitative", "scale": {"domain": [-0.013, 127.546], "nice": false, "zero": false}, "axis": null, "title": null},
  "y": {"field": "p", "type": "quantitative", "scale": {"domain": [3330.27, 3410.88], "nice": false, "zero": false}, "title": null},
  "text": {"field": "t"}}},
{"data": {"name": "labels"}, "transform": [{"filter": "datum.g == 'pv'"}],
 "mark": {"type": "text", "baseline": "middle", "align": "left", "fontSize": 10, "color": "#1a9aaa", "clip": false},
 "encoding": {"x": {"field": "x", "type": "quantitative", "scale": {"domain": [-0.013, 127.546], "nice": false, "zero": false}, "axis": null, "title": null},
  "y": {"field": "p", "type": "quantitative", "scale": {"domain": [3330.27, 3410.88], "nice": false, "zero": false}, "title": null},
  "text": {"field": "t"}}},
{"data": {"name": "labels"}, "transform": [{"filter": "datum.g == 'fibb'"}],
 "mark": {"type": "text", "baseline": "middle", "align": "right", "fontSize": 9, "color": "#1a9fe0", "clip": false},
 "encoding": {"x": {"field": "x", "type": "quantitative", "scale": {"domain": [-0.013, 127.546], "nice": false, "zero": false}, "axis": null, "title": null},
  "y": {"field": "p", "type": "quantitative", "scale": {"domain": [3330.27, 3410.88], "nice": false, "zero": false}, "title": null},
  "text": {"field": "t"}}},
{"data": {"name": "labels"}, "transform": [{"filter": "datum.g == 'fibr'"}],
 "mark": {"type": "text", "baseline": "middle", "align": "right", "fontSize": 9, "color": "#a02020", "clip": false},
 "encoding": {"x": {"field": "x", "type": "quantitative", "scale": {"domain": [-0.013, 127.546], "nice": false, "zero": false}, "axis": null, "title": null},
  "y": {"field": "p", "type": "quantitative", "scale": {"domain": [3330.27, 3410.88], "nice": false, "zero": false}, "title": null},
  "text": {"field": "t"}}},
{"data": {"name": "labels"}, "transform": [{"filter": "datum.g == 'timer'"}],
 "mark": {"type": "text", "baseline": "middle", "align": "right", "fontSize": 13, "color": "#d0d0d0", "clip": false},
 "encoding": {"x": {"field": "x", "type": "quantitative", "scale": {"domain": [-0.013, 127.546], "nice": false, "zero": false}, "axis": null, "title": null},
  "y": {"field": "p", "type": "quantitative", "scale": {"domain": [3330.27, 3410.88], "nice": false, "zero": false}, "title": null},
  "text": {"field": "t"}}},
{"data": {"name": "labels"}, "transform": [{"filter": "datum.g == 'tf'"}],
 "mark": {"type": "text", "baseline": "middle", "align": "right", "fontSize": 13, "color": "#d4a017", "clip": false},
 "encoding": {"x": {"field": "x", "type": "quantitative", "scale": {"domain": [-0.013, 127.546], "nice": false, "zero": false}, "axis": null, "title": null},
  "y": {"field": "p", "type": "quantitative", "scale": {"domain": [3330.27, 3410.88], "nice": false, "zero": false}, "title": null},
  "text": {"field": "t"}}},
{"data": {"name": "labels"}, "transform": [{"filter": "datum.g == 'price'"}],
 "mark": {"type": "text", "baseline": "middle", "align": "center", "fontSize": 9.5, "color": "#ffffff", "clip": false},
 "encoding": {"x": {"field": "x", "type": "quantitative", "scale": {"domain": [-0.013, 127.546], "nice": false, "zero": false}, "axis": null, "title": null},
  "y": {"field": "p", "type": "quantitative", "scale": {"domain": [3330.27, 3410.88], "nice": false, "zero": false}, "title": null},
  "text": {"field": "t"}}}
]
}
